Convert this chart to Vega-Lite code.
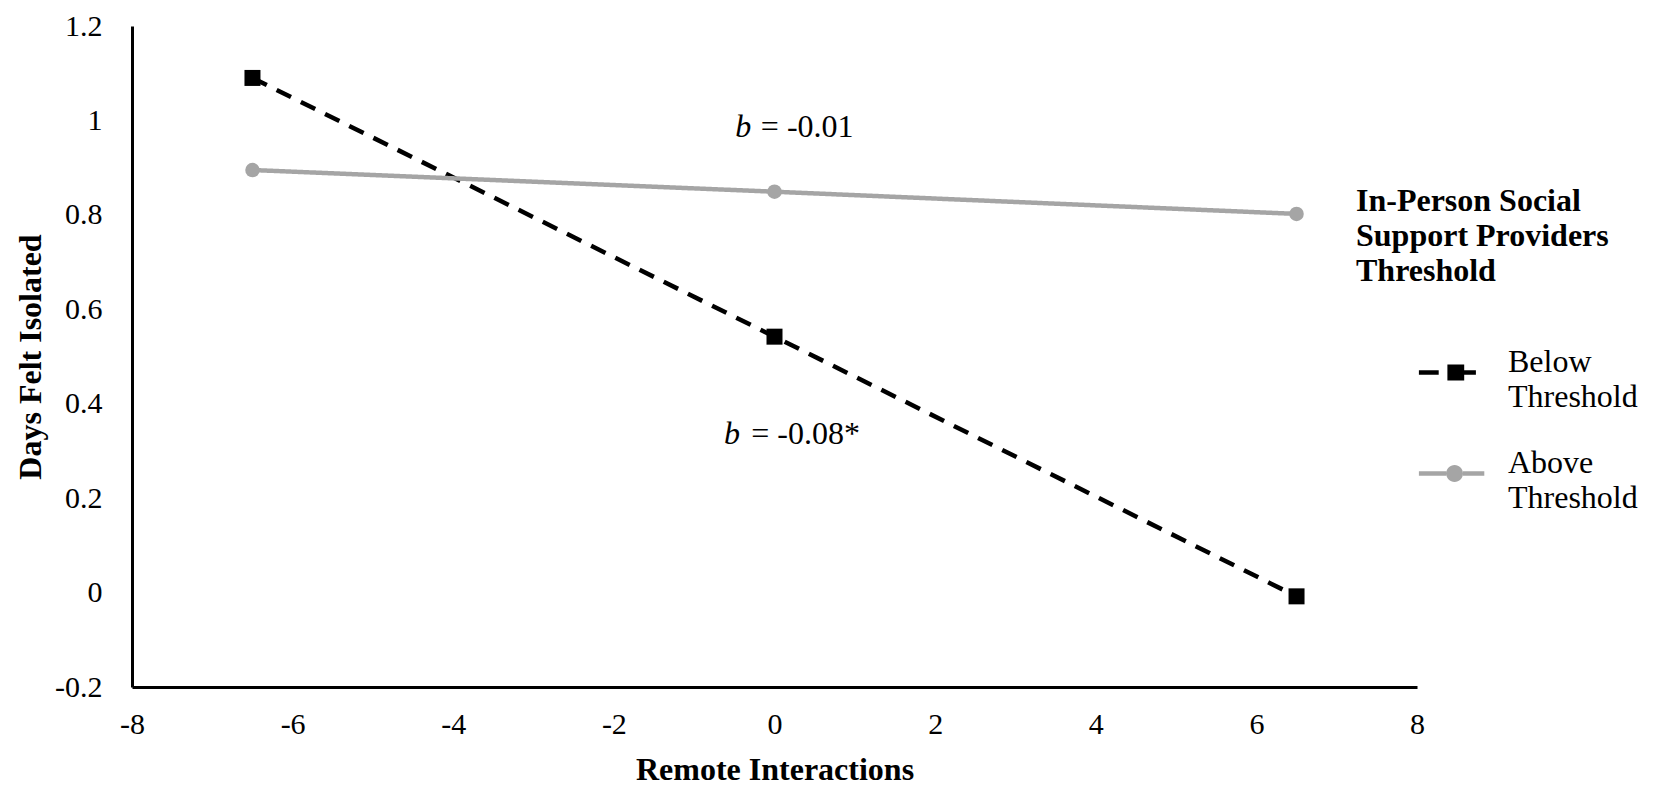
{
  "$schema": "https://vega.github.io/schema/vega-lite/v6.json",
  "width": 1285,
  "height": 661,
  "autosize": {"type": "none"},
  "padding": {"left": 132, "top": 26, "right": 241, "bottom": 99},
  "background": "white",
  "config": {
    "view": {"stroke": null},
    "font": "Liberation Serif",
    "axis": {"labelFont": "Liberation Serif", "titleFont": "Liberation Serif", "labelColor": "black", "titleColor": "black", "domainColor": "black", "grid": false, "ticks": false, "domainWidth": 3, "labelFontSize": 30, "titleFontSize": 32, "titleFontWeight": "bold", "labelFlush": false}
  },
  "datasets": {
    "lines": [
      {"group": "Below Threshold", "x": -6.5, "y": 1.09},
      {"group": "Below Threshold", "x": 0, "y": 0.542},
      {"group": "Below Threshold", "x": 6.5, "y": -0.008},
      {"group": "Above Threshold", "x": -6.5, "y": 0.895},
      {"group": "Above Threshold", "x": 0, "y": 0.849},
      {"group": "Above Threshold", "x": 6.5, "y": 0.802}
    ],
    "notes": [
      {"x": -0.49, "y": 0.987, "italic": "b", "rest": "= -0.01", "x2": -0.17},
      {"x": -0.63, "y": 0.335, "italic": "b", "rest": "= -0.08*", "x2": -0.29}
    ]
  },
  "layer": [
    {
      "data": {"name": "lines"},
      "mark": {"type": "line", "strokeWidth": 4.5, "strokeCap": "butt"},
      "encoding": {
        "x": {"field": "x", "type": "quantitative", "scale": {"domain": [-8, 8], "nice": false}, "axis": {"values": [-8, -6, -4, -2, 0, 2, 4, 6, 8], "labelExpr": "toString(datum.value)", "labelPadding": 22, "title": "Remote Interactions", "titleY": 82, "titleBaseline": "middle"}},
        "y": {"field": "y", "type": "quantitative", "scale": {"domain": [-0.2, 1.2], "nice": false, "zero": false}, "axis": {"values": [-0.2, 0, 0.2, 0.4, 0.6, 0.8, 1, 1.2], "labelExpr": "toString(round(datum.value*10)/10)", "labelPadding": 30, "title": "Days Felt Isolated", "titleX": -102, "titleBaseline": "middle"}},
        "color": {
          "field": "group", "type": "nominal",
          "scale": {"domain": ["Below Threshold", "Above Threshold"], "range": ["#000000", "#A5A5A5"]},
          "legend": {
            "title": ["In-Person Social", "Support Providers", "Threshold"],
            "orient": "none",
            "legendX": 1224,
            "legendY": 160,
            "titleFont": "Liberation Serif",
            "titleFontSize": 32,
            "titleFontWeight": "bold",
            "titleLineHeight": 35,
            "titleLimit": 500,
            "titleColor": "black",
            "titlePadding": 44,
            "labelFont": "Liberation Serif",
            "labelFontSize": 32,
            "labelColor": "black",
            "labelExpr": "split(datum.label, ' ')",
            "labelOffset": 36,
            "labelLimit": 300,
            "symbolOffset": 56,
            "symbolSize": 3600,
            "rowPadding": 20,
            "encode": {
              "labels": {"update": {
                "lineHeight": {"value": 35}
              }},
              "symbols": {"update": {
                "shape": {"signal": "datum.label == 'Below Threshold' ? 'M-0.77,0.275H-0.11V0.425H-0.77ZM0.18,0.08H0.74V0.62H0.18ZM0.74,0.275H1.13V0.425H0.74Z' : 'M-0.77,0.275H0.14V0.425H-0.77ZM0.70,0.275H1.41V0.425H0.70ZM0.70,0.35A0.28,0.28 0 1,0 0.14,0.35A0.28,0.28 0 1,0 0.70,0.35Z'"},
                "fill": {"signal": "datum.label == 'Below Threshold' ? '#000000' : '#A5A5A5'"},
                "strokeWidth": {"value": 0},
                "opacity": {"value": 1},
                "size": {"value": 3600}
              }}
            }
          }
        },
        "strokeDash": {"field": "group", "type": "nominal", "scale": {"domain": ["Below Threshold", "Above Threshold"], "range": [[16, 11], [1, 0]]}, "legend": null}
      }
    },
    {
      "data": {"name": "lines"},
      "transform": [{"filter": "datum.group == 'Below Threshold'"}],
      "mark": {"type": "point", "filled": true, "opacity": 1, "shape": "square", "size": 256, "color": "#000000"},
      "encoding": {
        "x": {"field": "x", "type": "quantitative"},
        "y": {"field": "y", "type": "quantitative"}
      }
    },
    {
      "data": {"name": "lines"},
      "transform": [{"filter": "datum.group == 'Above Threshold'"}],
      "mark": {"type": "point", "filled": true, "opacity": 1, "shape": "circle", "size": 210, "color": "#A5A5A5"},
      "encoding": {
        "x": {"field": "x", "type": "quantitative"},
        "y": {"field": "y", "type": "quantitative"}
      }
    },
    {
      "data": {"name": "notes"},
      "mark": {"type": "text", "align": "left", "baseline": "middle", "fontSize": 32, "fontStyle": "italic", "font": "Liberation Serif", "color": "black"},
      "encoding": {
        "x": {"field": "x", "type": "quantitative"},
        "y": {"field": "y", "type": "quantitative"},
        "text": {"field": "italic"}
      }
    },
    {
      "data": {"name": "notes"},
      "mark": {"type": "text", "align": "left", "baseline": "middle", "fontSize": 32, "font": "Liberation Serif", "color": "black"},
      "encoding": {
        "x": {"field": "x2", "type": "quantitative"},
        "y": {"field": "y", "type": "quantitative"},
        "text": {"field": "rest"}
      }
    }
  ]
}
